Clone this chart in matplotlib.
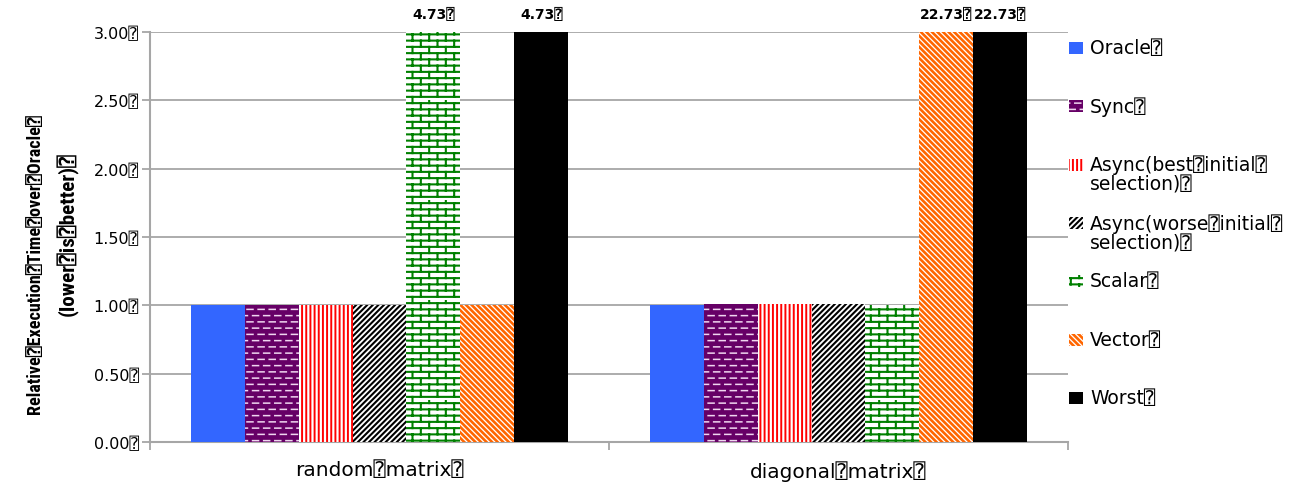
import warnings
import matplotlib
matplotlib.use("Agg")
import matplotlib.pyplot as plt
import matplotlib.hatch as mhatch
from matplotlib.patches import Rectangle
from matplotlib.ticker import FixedLocator, FuncFormatter

warnings.filterwarnings("ignore")

BOX = "\u2370"

# ---- data -------------------------------------------------------------
categories = ["random" + BOX + "matrix" + BOX, "diagonal" + BOX + "matrix" + BOX]
series_names = ["Oracle", "Sync", "Async(best initial selection)",
                "Async(worse initial selection)", "Scalar", "Vector", "Worst"]
legend_labels = ["Oracle" + BOX, "Sync" + BOX,
                 "Async(best" + BOX + "initial" + BOX + "\nselection)" + BOX,
                 "Async(worse" + BOX + "initial" + BOX + "\nselection)" + BOX,
                 "Scalar" + BOX, "Vector" + BOX, "Worst" + BOX]

oracle = [1.00, 1.00]
sync = [1.00, 1.01]
async_best = [1.00, 1.01]
async_worse = [1.00, 1.01]
scalar = [4.73, 1.00]
vector = [1.00, 22.73]
worst = [4.73, 22.73]
series_values = [oracle, sync, async_best, async_worse, scalar, vector, worst]

y_ticks = [0.0, 0.5, 1.0, 1.5, 2.0, 2.5, 3.0]
y_max = 3.0


# ---- custom fill patterns ----------------------------------------------
class BrickHatch(mhatch.HatchPatternBase):
    rows, cols = 16, 6

    def __init__(self, hatch, density):
        self.on = "B" in hatch
        self.num_vertices = (self.rows * 2 + self.rows * self.cols * 2 + self.rows * 2) if self.on else 0

    def set_vertices_and_codes(self, vertices, codes):
        k = 0
        for r in range(self.rows):
            y = (r + 0.5) / self.rows
            vertices[k] = (0.0, y); vertices[k + 1] = (1.0, y)
            codes[k] = mhatch.Path.MOVETO; codes[k + 1] = mhatch.Path.LINETO
            k += 2
        for r in range(self.rows):
            y0 = (r + 0.5) / self.rows
            y1 = (r + 1.5) / self.rows
            off = 0.25 if r % 2 == 0 else 0.75
            xs = [(c + off) / self.cols for c in range(self.cols)]
            for xv in xs:
                vertices[k] = (xv, y0); vertices[k + 1] = (xv, y1)
                codes[k] = mhatch.Path.MOVETO; codes[k + 1] = mhatch.Path.LINETO
                k += 2
            vertices[k] = (xs[0], y0 - 1.0); vertices[k + 1] = (xs[0], y1 - 1.0)
            codes[k] = mhatch.Path.MOVETO; codes[k + 1] = mhatch.Path.LINETO
            k += 2


class DashHatch(mhatch.HatchPatternBase):
    rows, cols = 16, 9

    def __init__(self, hatch, density):
        self.on = "D" in hatch
        self.num_vertices = (self.rows * (self.cols + 1) * 2) if self.on else 0

    def set_vertices_and_codes(self, vertices, codes):
        k = 0
        half = 0.27 / self.cols
        for r in range(self.rows):
            y = (r + 0.5) / self.rows
            for c in range(self.cols + 1):
                cx = (c + 0.5) / self.cols if r % 2 == 0 else c / self.cols
                vertices[k] = (cx - half, y); vertices[k + 1] = (cx + half, y)
                codes[k] = mhatch.Path.MOVETO; codes[k + 1] = mhatch.Path.LINETO
                k += 2


mhatch._hatch_types.append(BrickHatch)
mhatch._hatch_types.append(DashHatch)

styles = [
    dict(facecolor="#3366ff", edgecolor="#3366ff", hatch=None, hlw=1.0),
    dict(facecolor="#660066", edgecolor="#f0d6f0", hatch="D", hlw=1.1),
    dict(facecolor="white", edgecolor="#ff0000", hatch="||||", hlw=1.4),
    dict(facecolor="white", edgecolor="black", hatch="//////", hlw=1.5),
    dict(facecolor="white", edgecolor="#008000", hatch="B", hlw=1.5),
    dict(facecolor="white", edgecolor="#ff6600", hatch="\\" * 6, hlw=1.9),
    dict(facecolor="black", edgecolor="black", hatch=None, hlw=1.0),
]


def hatch_width_on_draw(artist, lw):
    # hatch stroke width is taken from rcParams when the artist is rendered
    base_draw = artist.draw

    def draw(renderer):
        with plt.rc_context({"hatch.linewidth": lw}):
            base_draw(renderer)

    artist.draw = draw


def apply_style(patch, st):
    patch.set_facecolor(st["facecolor"])
    patch.set_edgecolor(st["edgecolor"])
    patch.set_linewidth(0)
    if st["hatch"]:
        patch.set_hatch(st["hatch"])
        if hasattr(patch, "set_hatch_linewidth"):
            patch.set_hatch_linewidth(st["hlw"])
        hatch_width_on_draw(patch, st["hlw"])


plt.rcParams["font.family"] = ["DejaVu Sans", "DejaVu Sans Mono"]

W, H = 1296, 485
fig = plt.figure(figsize=(W / 100, H / 100), dpi=100)


def fx(px):
    return px / W


def fy(py):
    return 1 - py / H


ax = fig.add_axes([fx(150), fy(443), 918 / W, 410 / H])

n = len(series_values)
bar_w = 0.1176
x = list(range(len(categories)))
grid_c = "#a6a6a6"

for i, (vals, st) in enumerate(zip(series_values, styles)):
    pos = [xi + (i - (n - 1) / 2) * bar_w for xi in x]
    bars = ax.bar(pos, vals, width=bar_w, zorder=3)
    for b in bars:
        apply_style(b, st)
    for p, v in zip(pos, vals):
        if v > y_max:
            ax.annotate(f"{v:.2f}" + BOX, (p, y_max), xytext=(0, 13),
                        textcoords="offset points", ha="center", va="center",
                        fontsize=10, fontweight="bold", annotation_clip=False)

ax.set_xlim(-0.5, len(categories) - 0.5)
ax.set_ylim(0, y_max)

ax.yaxis.set_major_locator(FixedLocator(y_ticks))
ax.yaxis.set_major_formatter(FuncFormatter(lambda v, _: f"{v:.2f}" + BOX))
ax.yaxis.grid(True, color=grid_c, linewidth=1.3)
ax.set_axisbelow(True)
ax.tick_params(axis="y", length=6, width=1.3, color=grid_c, pad=2, labelsize=11.5)

ax.set_xticks(x)
ax.set_xticklabels(categories, fontsize=14.5)
ax.set_xticks([-0.5, 0.5, 1.5], minor=True)
ax.tick_params(axis="x", which="major", length=0, pad=13)
ax.tick_params(axis="x", which="minor", length=6, width=1.3, color=grid_c)

for s in ("top", "right"):
    ax.spines[s].set_visible(False)
for s in ("left", "bottom"):
    ax.spines[s].set_color(grid_c)
    ax.spines[s].set_linewidth(1.5)

# y-axis title in two lines, sized to a fixed length along the axis
title_font = ["Roboto Condensed", "Liberation Sans Narrow", "Liberation Sans", "DejaVu Sans Mono"]
t1 = fig.text(fx(35), fy(264), "Relative" + BOX + "Execution" + BOX + "Time" + BOX + "over" + BOX + "Oracle" + BOX,
              rotation=90, ha="center", va="center", fontsize=14, fontweight="bold", family=title_font)
t2 = fig.text(fx(68), fy(234), "(lower" + BOX + "is" + BOX + "better)" + BOX,
              rotation=90, ha="center", va="center", fontsize=14, fontweight="bold", family=title_font)

# legend
for i, (lab, st) in enumerate(zip(legend_labels, styles)):
    cy = 49 + i * 58.3
    r = Rectangle((fx(1069), fy(cy + 6)), 14 / W, 12 / H, transform=fig.transFigure)
    apply_style(r, st)
    fig.add_artist(r)
    fig.text(fx(1090), fy(cy - 10), lab, ha="left", va="top", fontsize=13.5,
             linespacing=1.05)

fig.canvas.draw()
renderer = fig.canvas.get_renderer()
for t, length in ((t1, 302), (t2, 165)):
    ext = t.get_window_extent(renderer)
    t.set_fontsize(t.get_fontsize() * length / ext.height)

fig.savefig("out.png", dpi=100)
